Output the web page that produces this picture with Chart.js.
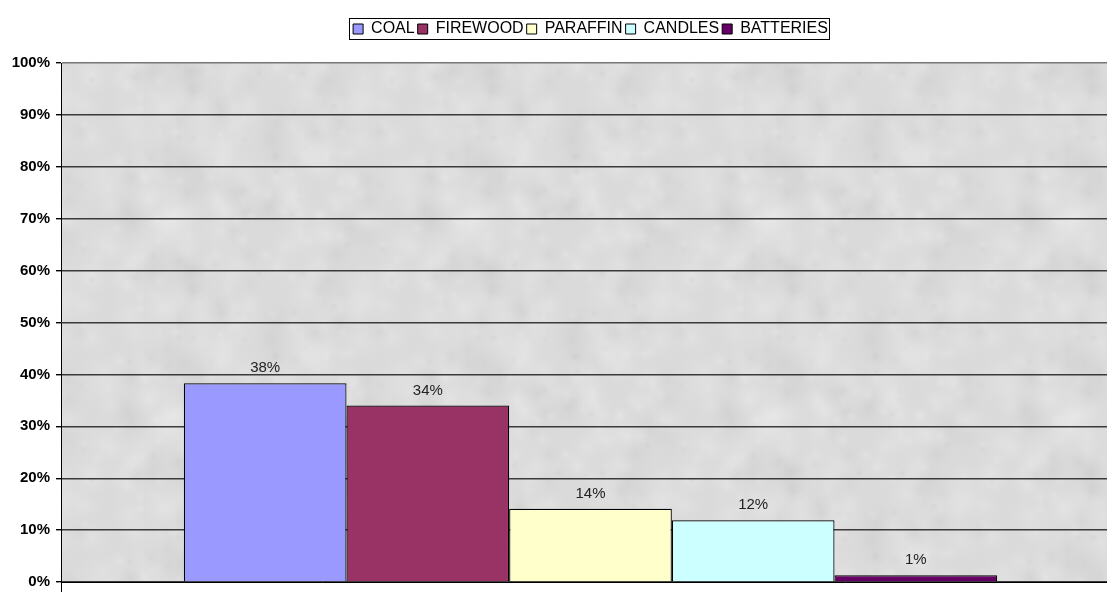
<!DOCTYPE html>
<html lang="en">
  <head>
    <meta charset="UTF-8" />
    <title>Energy sources</title>
    <script src="https://cdn.jsdelivr.net/npm/chart.js"></script>
    <style>
      html, body { margin: 0; padding: 0; background: #fff; }
      #wrap { width: 1107px; height: 592px; }
    </style>
  </head>
  <body>
    <div id="wrap"><canvas id="myChart" width="1107" height="592"></canvas></div>
    <script>
      // share of households per energy source (%)
      const sources = ["COAL", "FIREWOOD", "PARAFFIN", "CANDLES", "BATTERIES"];
      const shares = [38.3, 34.0, 14.1, 11.9, 1.3];
      const colors = ["#9999ff", "#993366", "#ffffcc", "#ccffff", "#660066"];
      const yTicks = [0, 10, 20, 30, 40, 50, 60, 70, 80, 90, 100];

      const FONT = "Arial, 'Liberation Sans', sans-serif";

      const datasets = sources.map(function (name, i) {
        return {
          label: name,
          data: [shares[i]],
          backgroundColor: colors[i],
          borderColor: "#000",
          borderWidth: 1.2,
          categoryPercentage: 0.768,
          barPercentage: 1,
        };
      });

      // light grey mottled fill, a bit like the old stone texture
      function makeTexture() {
        const c = document.createElement("canvas");
        const W = 300, H = 200;
        c.width = W;
        c.height = H;
        const g = c.getContext("2d");
        g.fillStyle = "#dadada";
        g.fillRect(0, 0, W, H);
        for (let k = 0; k < 220; k++) {
          const x = Math.abs((Math.sin(k * 12.9898) * 43758.5453) % 1);
          const y = Math.abs((Math.sin(k * 78.233) * 12543.123) % 1);
          const r = 6 + (k % 9) * 3;
          const light = k % 3 !== 0;
          // draw the blob with wrap-around so the tile repeats without seams
          for (let dx = -1; dx <= 1; dx++) {
            for (let dy = -1; dy <= 1; dy++) {
              const px = x * W + dx * W;
              const py = y * H + dy * H;
              const grad = g.createRadialGradient(px, py, 0, px, py, r);
              grad.addColorStop(0, light ? "rgba(236,236,236,0.35)" : "rgba(190,190,190,0.25)");
              grad.addColorStop(1, "rgba(218,218,218,0)");
              g.fillStyle = grad;
              g.fillRect(px - r, py - r, r * 2, r * 2);
            }
          }
        }
        return c;
      }

      const LEGEND_SHIFT = 37;

      const layoutTweaks = {
        id: "layoutTweaks",
        beforeLayout(chart) {
          // leave a gap between legend and plot
          const lg = chart.legend;
          if (lg && !lg._gapPatched) {
            const fit = lg.fit;
            lg.fit = function () {
              fit.call(this);
              this.height += 16;
            };
            lg._gapPatched = true;
          }
        },
        afterLayout(chart) {
          // plot runs a little past the right edge of the canvas
          const x = chart.scales.x;
          x.right += 13;
          x.width += 13;
          x.configure();
          // legend sits centred over the extended plot
          const lg = chart.legend;
          lg.left += LEGEND_SHIFT;
          lg.right += LEGEND_SHIFT;
          lg.legendHitBoxes.forEach(function (h) {
            h.left += LEGEND_SHIFT;
          });
        },
      };

      const plotBg = {
        id: "plotBg",
        beforeDraw(chart) {
          const { ctx, chartArea: a } = chart;
          ctx.save();
          ctx.fillStyle = ctx.createPattern(makeTexture(), "repeat");
          ctx.fillRect(a.left, a.top, a.right - a.left, a.bottom - a.top);
          ctx.restore();
        },
        afterDraw(chart) {
          const { ctx, chartArea: a } = chart;
          ctx.save();
          ctx.strokeStyle = "#000";
          ctx.lineWidth = 1;
          ctx.beginPath();
          ctx.moveTo(a.left + 0.5, a.bottom);
          ctx.lineTo(a.left + 0.5, chart.height);
          ctx.moveTo(a.left, a.bottom + 0.5);
          ctx.lineTo(chart.width, a.bottom + 0.5);
          ctx.stroke();
          ctx.restore();
        },
      };

      // box around the legend
      const legendBox = {
        id: "legendBox",
        afterDraw(chart) {
          const boxes = chart.legend.legendHitBoxes;
          if (!boxes.length) return;
          let l = Infinity, r = -Infinity, t = Infinity, b = -Infinity;
          boxes.forEach(function (h) {
            l = Math.min(l, h.left);
            r = Math.max(r, h.left + h.width);
            t = Math.min(t, h.top);
            b = Math.max(b, h.top + h.height);
          });
          const ctx = chart.ctx;
          ctx.save();
          ctx.strokeStyle = "#000";
          ctx.lineWidth = 1;
          ctx.strokeRect(Math.round(l) - 3.5, Math.round(t) - 2.5, Math.round(r - l) + 5, Math.round(b - t) + 5);
          ctx.restore();
        },
      };

      // value labels above the bars
      const valueLabels = {
        id: "valueLabels",
        afterDatasetsDraw(chart) {
          const ctx = chart.ctx;
          ctx.save();
          ctx.font = "15px " + FONT;
          ctx.fillStyle = "#222";
          ctx.textAlign = "center";
          ctx.textBaseline = "middle";
          chart.data.datasets.forEach(function (ds, i) {
            const bar = chart.getDatasetMeta(i).data[0];
            ctx.fillText(Math.round(ds.data[0]) + "%", bar.x, bar.y - 15);
          });
          ctx.restore();
        },
      };

      const ctx = document.querySelector("#myChart");
      new Chart(ctx, {
        type: "bar",
        data: { labels: [""], datasets: datasets },
        plugins: [layoutTweaks, plotBg, legendBox, valueLabels],
        options: {
          responsive: false,
          animation: false,
          layout: { padding: { top: 18, right: 0, bottom: 10, left: 0 } },
          plugins: {
            tooltip: { enabled: false },
            legend: {
              position: "top",
              labels: {
                boxWidth: 10,
                boxHeight: 10,
                padding: 3,
                color: "#000",
                font: { family: FONT, size: 16 },
                generateLabels(chart) {
                  return chart.data.datasets.map(function (ds, i) {
                    return {
                      text: ds.label,
                      fillStyle: ds.backgroundColor,
                      strokeStyle: "#000",
                      lineWidth: 1,
                      datasetIndex: i,
                    };
                  });
                },
              },
            },
          },
          scales: {
            x: { display: false },
            y: {
              min: 0,
              max: 100,
              afterFit(scale) {
                scale.width = 61;
                scale.paddingTop = 0;
                scale.paddingBottom = 0;
              },
              afterBuildTicks(scale) {
                scale.ticks = yTicks.map(function (v) {
                  return { value: v };
                });
              },
              ticks: {
                padding: 6,
                color: "#000",
                font: { family: FONT, size: 15, weight: "bold" },
                callback: function (v) {
                  return v + "%";
                },
              },
              grid: {
                color: function (c) {
                  return c.tick && c.tick.value === 100 ? "#777" : "#3a3a3a";
                },
                lineWidth: 1.4,
                tickColor: "#000",
                tickLength: 5,
              },
              border: { color: "#000", width: 1 },
            },
          },
        },
      });
    </script>
  </body>
</html>
